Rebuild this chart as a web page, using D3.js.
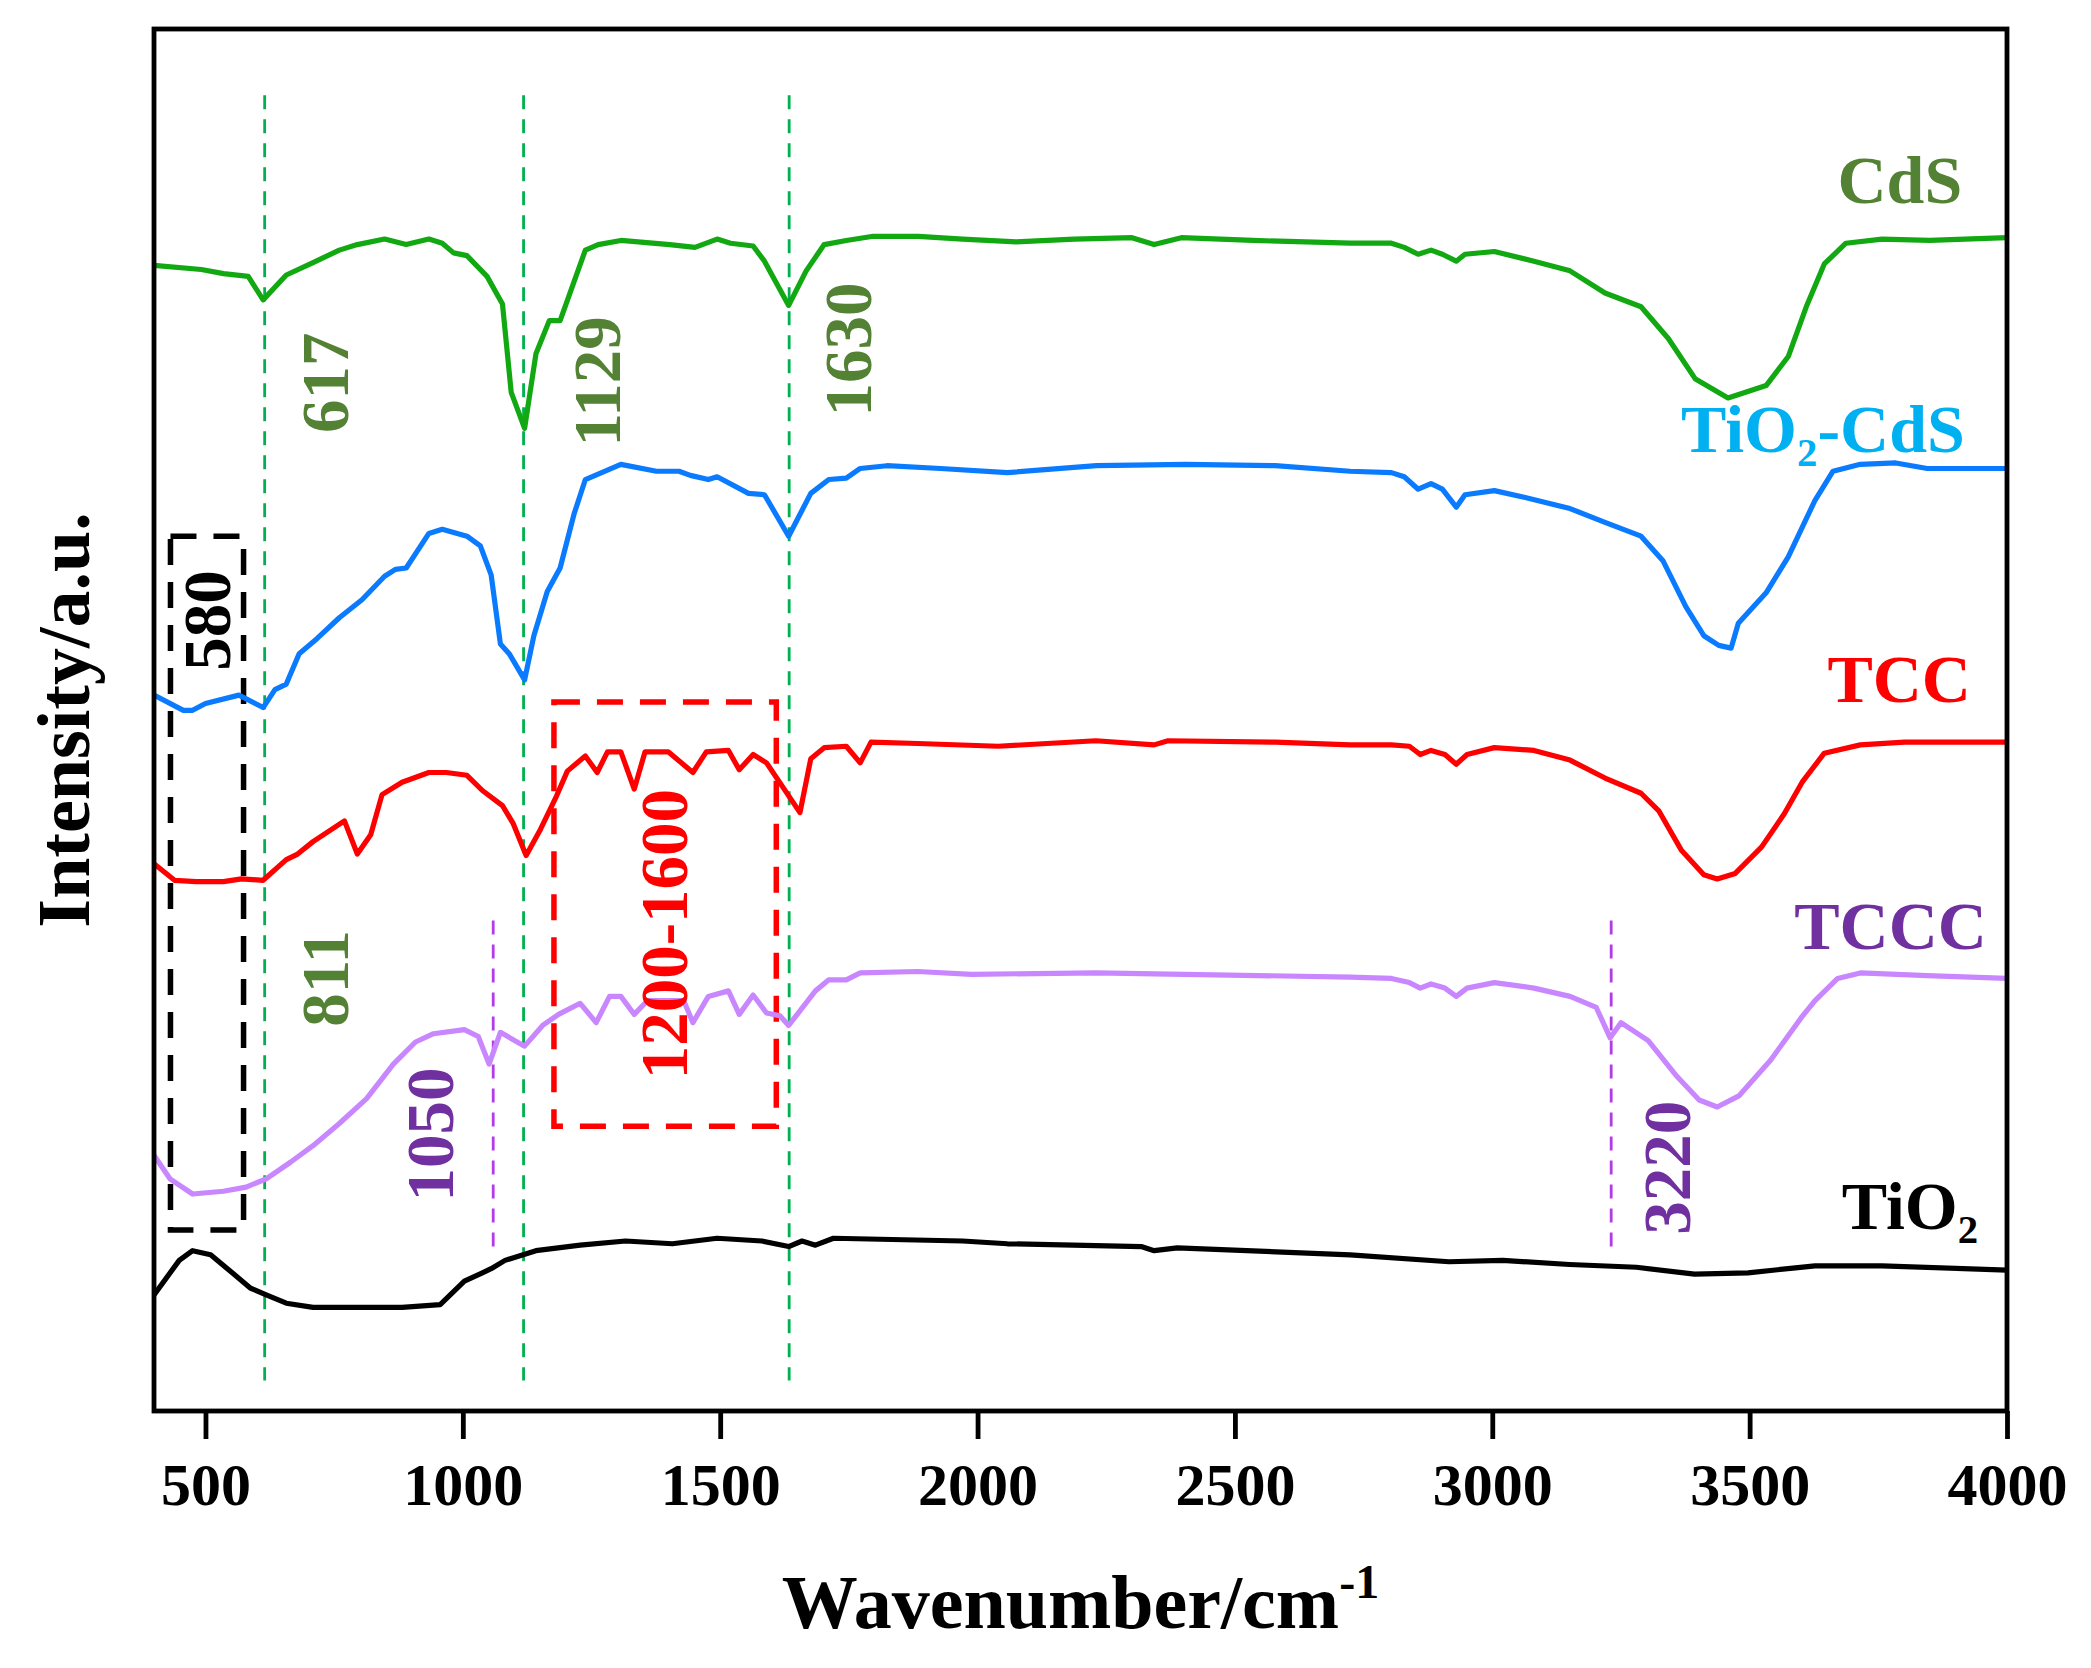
<!DOCTYPE html>
<html>
<head>
<meta charset="utf-8">
<script src="https://cdn.jsdelivr.net/npm/d3@7"></script>
<style>
  body { margin: 0; background: #fff; }
  text { font-family: "Liberation Serif", "Times New Roman", serif; font-weight: bold; }
</style>
</head>
<body>
<svg id="chart"></svg>
<script>
// ---- data (wavenumber cm-1, intensity a.u.) ----
const xTicks = [500, 1000, 1500, 2000, 2500, 3000, 3500, 4000];

const seriesNames = ["CdS", "TiO2-CdS", "TCC", "TCCC", "TiO2"];

const cds = [[400,82.9],[492,82.6],[535,82.3],[583,82.1],[612,80.4],[657,82.2],[709,83.1],[760,84.0],[795,84.4],[848,84.8],[890,84.4],[934,84.8],[960,84.5],[982,83.8],[1008,83.6],[1047,82.1],[1077,80.1],[1094,73.7],[1120,71.1],[1142,76.5],[1168,78.9],[1189,78.9],[1238,84.0],[1263,84.4],[1307,84.7],[1402,84.4],[1451,84.2],[1494,84.8],[1520,84.5],[1564,84.3],[1586,83.2],[1633,80.0],[1667,82.5],[1702,84.4],[1745,84.7],[1797,85.0],[1885,85.0],[1971,84.8],[2075,84.6],[2188,84.8],[2300,84.9],[2343,84.4],[2396,84.9],[2535,84.7],[2724,84.5],[2804,84.5],[2829,84.2],[2856,83.7],[2881,84.0],[2903,83.7],[2930,83.2],[2947,83.7],[3004,83.9],[3081,83.2],[3151,82.5],[3219,80.9],[3289,79.9],[3342,77.6],[3394,74.7],[3458,73.3],[3532,74.2],[3575,76.3],[3610,79.9],[3645,83.0],[3687,84.5],[3757,84.8],[3850,84.7],[4000,84.9]];

const tio2Cds = [[400,51.8],[457,50.7],[475,50.7],[500,51.2],[565,51.8],[612,50.9],[635,52.2],[657,52.6],[682,54.8],[717,55.9],[760,57.4],[804,58.7],[848,60.4],[869,60.9],[890,61.0],[934,63.5],[960,63.8],[1008,63.3],[1034,62.6],[1055,60.5],[1073,55.5],[1090,54.8],[1120,52.9],[1138,56.1],[1164,59.3],[1189,61.0],[1216,64.9],[1238,67.4],[1307,68.5],[1376,68.0],[1420,68.0],[1442,67.7],[1477,67.4],[1494,67.6],[1555,66.4],[1586,66.3],[1633,63.3],[1676,66.4],[1711,67.4],[1745,67.5],[1772,68.2],[1824,68.4],[1928,68.2],[2058,67.9],[2231,68.4],[2405,68.5],[2578,68.4],[2724,68.0],[2804,67.9],[2829,67.6],[2856,66.7],[2881,67.1],[2903,66.7],[2930,65.4],[2947,66.3],[3004,66.6],[3064,66.1],[3151,65.3],[3219,64.3],[3289,63.3],[3332,61.5],[3376,58.2],[3411,56.1],[3440,55.4],[3464,55.2],[3478,57.0],[3532,59.2],[3575,61.8],[3627,65.9],[3662,68.0],[3715,68.5],[3784,68.6],[3845,68.2],[4000,68.2]];

const tcc = [[400,39.6],[440,38.4],[482,38.3],[535,38.3],[570,38.5],[612,38.4],[657,39.9],[679,40.3],[709,41.2],[770,42.7],[795,40.3],[821,41.7],[843,44.6],[882,45.5],[934,46.2],[968,46.2],[1008,46.0],[1038,44.9],[1077,43.8],[1098,42.5],[1123,40.2],[1151,42.1],[1182,44.5],[1203,46.3],[1238,47.4],[1261,46.2],[1281,47.7],[1307,47.7],[1333,45.0],[1354,47.7],[1399,47.7],[1447,46.2],[1473,47.7],[1516,47.8],[1537,46.4],[1564,47.5],[1590,46.9],[1655,43.3],[1676,47.2],[1702,48.0],[1745,48.1],[1772,46.9],[1793,48.4],[1884,48.3],[2040,48.1],[2230,48.5],[2343,48.2],[2370,48.5],[2578,48.4],[2724,48.2],[2804,48.2],[2839,48.1],[2860,47.5],[2881,47.8],[2908,47.5],[2930,46.8],[2951,47.5],[3004,48.0],[3081,47.8],[3151,47.1],[3219,45.8],[3289,44.7],[3324,43.4],[3367,40.6],[3411,38.8],[3437,38.5],[3472,38.9],[3523,40.8],[3567,43.2],[3602,45.5],[3645,47.6],[3715,48.2],[3801,48.4],[4000,48.4]];

const tccc = [[400,18.5],[431,16.8],[475,15.7],[535,15.9],[579,16.2],[618,16.8],[665,18.0],[709,19.2],[760,20.8],[813,22.6],[865,25.1],[908,26.7],[943,27.3],[1003,27.6],[1030,27.1],[1051,25.1],[1073,27.4],[1120,26.4],[1155,27.9],[1186,28.7],[1228,29.5],[1259,28.1],[1285,30.0],[1307,30.0],[1333,28.7],[1359,29.7],[1429,29.7],[1447,28.1],[1477,30.0],[1516,30.4],[1537,28.7],[1564,30.1],[1590,28.8],[1616,28.6],[1633,27.9],[1685,30.4],[1711,31.2],[1745,31.2],[1772,31.7],[1884,31.8],[1988,31.6],[2230,31.7],[2724,31.4],[2804,31.3],[2839,31.0],[2860,30.6],[2881,30.9],[2908,30.6],[2930,30.0],[2951,30.6],[3004,31.0],[3081,30.6],[3151,30.0],[3202,29.2],[3229,27.0],[3250,28.1],[3303,26.8],[3359,24.2],[3402,22.5],[3437,22.0],[3479,22.8],[3541,25.4],[3601,28.5],[3627,29.7],[3671,31.3],[3715,31.7],[3845,31.5],[4000,31.3]];

const tio2 = [[400,8.4],[449,10.9],[475,11.6],[510,11.3],[552,10.0],[587,8.9],[618,8.4],[657,7.8],[709,7.5],[795,7.5],[882,7.5],[956,7.7],[1003,9.4],[1038,10.0],[1055,10.3],[1082,10.9],[1142,11.6],[1228,12.0],[1316,12.3],[1407,12.1],[1494,12.5],[1581,12.3],[1633,11.9],[1659,12.3],[1685,12.0],[1720,12.5],[1971,12.3],[2058,12.1],[2318,11.9],[2343,11.6],[2388,11.8],[2724,11.3],[2916,10.8],[3020,10.9],[3150,10.6],[3280,10.4],[3393,9.9],[3497,10.0],[3627,10.5],[3757,10.5],[4000,10.2]];

const seriesData = [cds, tio2Cds, tcc, tccc, tio2];

// peak marks (wavenumber of dashed line) and their labels
const greenPeaks = [615, 1118, 1634];
const purplePeaks = [1059, 3231];
const peakLabels = ["617", "1129", "1630", "811", "1050", "3220", "580", "1200-1600"];

// ---- layout / style ----
const width = 2091, height = 1668;
const margin = { top: 29, right: 84, bottom: 257, left: 154 };
const font = '"Liberation Serif", "Times New Roman", serif';

const lineColors = ["#12a812", "#0a7bff", "#ff0000", "#c987ff", "#000000"];
const labelColors = ["#548235", "#00b0f0", "#ff0000", "#7030a0", "#000000"];
// label anchor (right end, baseline) in data units
const labelPos = [[3913, 87.4], [3918, 69.4], [3930, 51.3], [3961, 33.4], [3944, 13.2]];

const olive = "#548235", purpleText = "#7030a0";
// rotated annotation centres in data units
const peakLabelPos = [
  { wn: 731, i: 74.4, color: olive },
  { wn: 1259, i: 74.5, color: olive },
  { wn: 1747, i: 76.8, color: olive },
  { wn: 731, i: 31.3, color: olive },
  { wn: 936, i: 20.0, color: purpleText },
  { wn: 3338, i: 17.6, color: purpleText },
  { wn: 502, i: 57.2, color: "#000" },
  { wn: 1389, i: 34.5, color: "#ff0000" }
];

const svg = d3.select("#chart").attr("width", width).attr("height", height);
svg.append("rect").attr("width", width).attr("height", height).attr("fill", "#fff");

const x = d3.scaleLinear().domain([400, 4000]).range([margin.left, width - margin.right]);
const y = d3.scaleLinear().domain([0, 100]).range([height - margin.bottom, margin.top]);

svg.append("clipPath").attr("id", "plot-clip")
  .append("rect")
  .attr("x", x(400)).attr("y", y(100))
  .attr("width", x(4000) - x(400)).attr("height", y(0) - y(100));

// dashed peak lines
svg.append("g").selectAll("line").data(greenPeaks).join("line")
  .attr("x1", d => x(d)).attr("x2", d => x(d))
  .attr("y1", y(95.2)).attr("y2", y(2.2))
  .attr("stroke", "#00b050").attr("stroke-width", 2.8)
  .attr("stroke-dasharray", "14,10");

svg.append("g").selectAll("line").data(purplePeaks).join("line")
  .attr("x1", d => x(d)).attr("x2", d => x(d))
  .attr("y1", y(35.5)).attr("y2", y(11.6))
  .attr("stroke", "#b43ce6").attr("stroke-width", 2.8)
  .attr("stroke-dasharray", "14,10");

// dashed region boxes
const boxes = [
  { x0: 432, x1: 574, i0: 13.1, i1: 63.3, color: "#000" },
  { x0: 1177, x1: 1609, i0: 20.6, i1: 51.3, color: "#ff0000" }
];
svg.append("g").selectAll("rect").data(boxes).join("rect")
  .attr("x", d => x(d.x0)).attr("y", d => y(d.i1))
  .attr("width", d => x(d.x1) - x(d.x0)).attr("height", d => y(d.i0) - y(d.i1))
  .attr("fill", "none").attr("stroke", d => d.color)
  .attr("stroke-width", 5.5).attr("stroke-dasharray", "26,17");

// spectra
const line = d3.line().x(d => x(d[0])).y(d => y(d[1]));
svg.append("g").attr("clip-path", "url(#plot-clip)")
  .selectAll("path").data(seriesData).join("path")
  .attr("d", line)
  .attr("fill", "none")
  .attr("stroke", (d, i) => lineColors[i])
  .attr("stroke-width", 5.2)
  .attr("stroke-linejoin", "round")
  .attr("stroke-linecap", "round");

// frame
svg.append("rect")
  .attr("x", x(400)).attr("y", y(100))
  .attr("width", x(4000) - x(400)).attr("height", y(0) - y(100))
  .attr("fill", "none").attr("stroke", "#000").attr("stroke-width", 4.8);

// x axis
svg.append("g")
  .attr("transform", `translate(0,${y(0)})`)
  .call(d3.axisBottom(x).tickValues(xTicks).tickSizeInner(28).tickSizeOuter(0).tickFormat(d3.format("d")))
  .attr("font-family", font).attr("font-size", 60)
  .call(g => g.select(".domain").remove())
  .call(g => g.selectAll(".tick line").attr("stroke", "#000").attr("stroke-width", 4.8))
  .call(g => g.selectAll(".tick text").attr("y", 94).attr("dy", null).attr("fill", "#000"));

// axis titles
const xTitle = svg.append("text")
  .attr("x", (x(400) + x(4000)) / 2).attr("y", 1628)
  .attr("text-anchor", "middle").attr("font-size", 76);
xTitle.append("tspan").text("Wavenumber/cm");
xTitle.append("tspan").attr("font-size", 48).attr("dy", -30).text("-1");

svg.append("text")
  .attr("transform", `translate(63,${(y(0) + y(100)) / 2}) rotate(-90)`)
  .attr("text-anchor", "middle").attr("dy", "0.35em")
  .attr("font-size", 74)
  .text("Intensity/a.u.");

// series labels with subscript 2
function chemText(sel, name) {
  const parts = name.split("O2");
  if (parts.length === 1) { sel.text(name); return; }
  sel.append("tspan").text(parts[0] + "O");
  sel.append("tspan").attr("font-size", "0.6em").attr("dy", 14).text("2");
  if (parts[1]) sel.append("tspan").attr("dy", -14).text(parts[1]);
}

svg.append("g").selectAll("text").data(seriesNames).join("text")
  .attr("x", (d, i) => x(labelPos[i][0]))
  .attr("y", (d, i) => y(labelPos[i][1]))
  .attr("text-anchor", "end")
  .attr("font-size", 68)
  .attr("fill", (d, i) => labelColors[i])
  .each(function(d) { chemText(d3.select(this), d); });

// rotated peak annotations
svg.append("g").selectAll("text").data(peakLabels).join("text")
  .attr("transform", (d, i) => `translate(${x(peakLabelPos[i].wn)},${y(peakLabelPos[i].i)}) rotate(-90)`)
  .attr("text-anchor", "middle").attr("dy", "0.35em")
  .attr("font-size", 67)
  .attr("fill", (d, i) => peakLabelPos[i].color)
  .text(d => d);
</script>
</body>
</html>
